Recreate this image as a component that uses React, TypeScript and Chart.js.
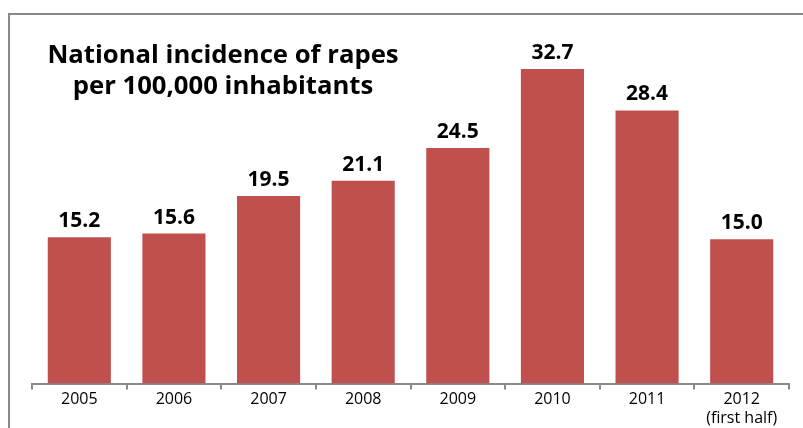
import React, { useEffect, useRef } from "react";
import { Chart, registerables } from "chart.js";

Chart.register(...registerables);

const categories: (string | string[])[] = ["2005", "2006", "2007", "2008", "2009", "2010", "2011", ["2012", "(first half)"]];
const incidence: number[] = [15.2, 15.6, 19.5, 21.1, 24.5, 32.7, 28.4, 15.0];
const titleLines: string[] = ["National incidence of rapes", "per 100,000 inhabitants"];

const FONT = "'Open Sans', sans-serif";

const framePlugin = {
  id: "frame",
  beforeDraw(chart: any) {
    const ctx = chart.ctx;
    ctx.save();
    ctx.strokeStyle = "#898989";
    ctx.lineWidth = 2;
    ctx.beginPath();
    ctx.moveTo(9, 440);
    ctx.lineTo(9, 14);
    ctx.lineTo(820, 14);
    ctx.stroke();
    ctx.restore();
  },
};

const overlayPlugin = {
  id: "overlay",
  afterDatasetsDraw(chart: any) {
    const ctx = chart.ctx;
    ctx.save();
    ctx.fillStyle = "#000";
    ctx.textAlign = "center";
    ctx.textBaseline = "alphabetic";
    ctx.font = `bold 25.7px ${FONT}`;
    titleLines.forEach((t, i) => ctx.fillText(t, 223, 63 + i * 31));
    ctx.font = `bold 21px ${FONT}`;
    const meta = chart.getDatasetMeta(0);
    meta.data.forEach((bar: any, i: number) => {
      ctx.fillText(incidence[i].toFixed(1), bar.x, bar.y - 10);
    });
    ctx.restore();
  },
};

export default function App() {
  const ref = useRef<HTMLCanvasElement>(null);
  useEffect(() => {
    document.body.style.margin = "0";
    const chart = new Chart(ref.current!, {
      type: "bar",
      data: {
        labels: categories,
        datasets: [
          {
            data: incidence,
            backgroundColor: "#C0504D",
            barPercentage: 0.667,
            categoryPercentage: 1,
          },
        ],
      },
      options: {
        animation: false,
        responsive: false,
        devicePixelRatio: 1,
        layout: { padding: { left: 32, right: 14, top: 47, bottom: 0 } },
        plugins: { legend: { display: false }, tooltip: { enabled: false }, title: { display: false } },
        scales: {
          x: {
            offset: true,
            grid: {
              display: true,
              drawOnChartArea: false,
              drawTicks: true,
              tickLength: 6,
              offset: true,
              color: "#898989",
              lineWidth: 2,
            },
            border: { display: true, color: "#898989", width: 2 },
            ticks: {
              color: "#000",
              font: { family: FONT, size: 16, lineHeight: 1.2 },
              padding: 0,
              maxRotation: 0,
              autoSkip: false,
            },
            afterFit: (scale: any) => {
              scale.height = 44.5;
            },
          },
          y: { display: false, min: 0, max: 35 },
        },
      },
      plugins: [framePlugin, overlayPlugin],
    });
    return () => chart.destroy();
  }, []);
  return <canvas ref={ref} width={803} height={428} style={{ display: "block" }} />;
}
